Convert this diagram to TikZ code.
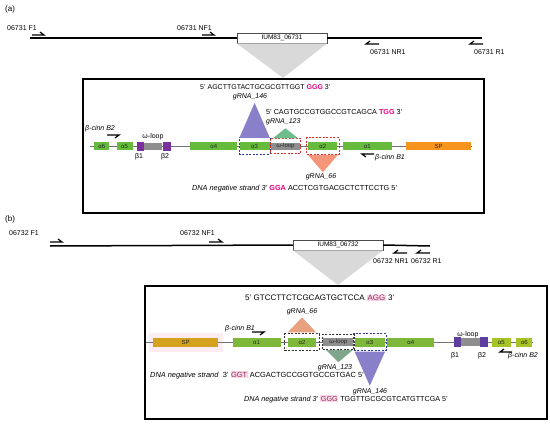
\documentclass[tikz,border=0pt]{standalone}
\usepackage{fontspec}
\setmainfont{Liberation Sans}
\usepackage{xcolor}
\usetikzlibrary{positioning,fit}

\definecolor{cHelixA}{HTML}{66BB3C}
\definecolor{cHelixB}{HTML}{7DB83A}
\definecolor{cHelixB2}{HTML}{A6C426}
\definecolor{cStrandA}{HTML}{7B2F9E}
\definecolor{cStrandB}{HTML}{5B3E9E}
\definecolor{cLoop}{HTML}{8E8E8E}
\definecolor{cSpA}{HTML}{F7941E}
\definecolor{cSpB}{HTML}{D4A21C}
\definecolor{cTri146}{HTML}{8880C8}
\definecolor{cTri123A}{HTML}{6DBE8C}
\definecolor{cTri123B}{HTML}{7FA68A}
\definecolor{cTri66A}{HTML}{F5957A}
\definecolor{cTri66B}{HTML}{E9A27F}
\definecolor{cZoom}{HTML}{D9D9D9}
\definecolor{cPamA}{HTML}{E6007E}
\definecolor{cPamB}{HTML}{8E2F66}
\definecolor{cPamBbg}{HTML}{FAD6E5}
\definecolor{cDashBlue}{HTML}{2E3A9E}
\definecolor{cDashRed}{HTML}{E0302E}

\newcommand{\pamA}[1]{\textcolor{cPamA}{\bfseries #1}}
\newcommand{\pamB}[1]{{\setlength{\fboxsep}{0.6pt}\colorbox{cPamBbg}{\textcolor{cPamB}{#1}}}}

\begin{document}
\begin{tikzpicture}[x=1pt, y=-1pt, node distance=5pt, font=\fontsize{7}{8}\selectfont]
        % stijlen
        \tikzstyle{mainline} = [line width=1.5pt]
        \tikzstyle{primer} = [line width=1.2pt]
        \tikzstyle{iumbox} = [rectangle, draw=black!70, fill=white, line width=0.5pt, minimum width=90pt, minimum height=10pt, inner sep=0pt, font=\fontsize{6.5}{7}\selectfont]
        \tikzstyle{zoomtri} = [fill=cZoom]
        \tikzstyle{panelbox} = [rectangle, draw=black, line width=1.6pt, inner sep=0pt]
        \tikzstyle{gene} = [rectangle, inner sep=0pt, minimum height=8pt, text=black!85, font=\fontsize{6}{6}\selectfont]
        \tikzstyle{helixA} = [gene, fill=cHelixA]
        \tikzstyle{strandA} = [gene, fill=cStrandA, minimum height=9pt]
        \tikzstyle{loopA} = [gene, fill=cLoop, minimum height=7pt]
        \tikzstyle{spboxA} = [gene, fill=cSpA]
        \tikzstyle{helixB} = [gene, fill=cHelixB, minimum height=9pt]
        \tikzstyle{helixBB} = [gene, fill=cHelixB2, minimum height=9pt]
        \tikzstyle{strandB} = [gene, fill=cStrandB, minimum height=10pt]
        \tikzstyle{loopB} = [gene, fill=cLoop, minimum height=8pt]
        \tikzstyle{spboxB} = [gene, fill=cSpB, minimum height=9pt]
        \tikzstyle{backbone} = [line width=0.7pt, draw=black!55]
        \tikzstyle{lab} = [inner sep=0pt, anchor=west]
        \tikzstyle{clab} = [inner sep=0pt]
        \tikzstyle{dashbox} = [rectangle, dash pattern=on 2pt off 1.5pt, line width=0.8pt, inner xsep=1.5pt, inner ysep=4pt]

        \useasboundingbox (0,0) rectangle (550,426);

        % ---------- (a) ----------
        \node[lab, font=\fontsize{8}{9}\selectfont] (tagA) at (5,9) {(a)};
        \coordinate (lineA-l) at (30,38);
        \coordinate (lineA-r) at (482,38);
        \coordinate (zoomA) at (283,78);
        \node[iumbox] (iumA) at (282,38) {IUM83\_06731};
        \fill[zoomtri] (iumA.south west) -- (iumA.south east) -- (zoomA) -- cycle;
        \draw[mainline] (lineA-l) -- (iumA.west);
        \draw[mainline] (iumA.east) -- (lineA-r);

        % primers
        \node[lab] (f1A) at (7,28) {06731 F1};
        \node[lab] (nf1A) at (177,28) {06731 NF1};
        \node[lab] (nr1A) at (370,52) {06731 NR1};
        \node[lab] (r1A) at (474,52) {06731 R1};
        \draw[primer] (32,35) -- (44,35) -- ++(-4,-3);
        \draw[primer] (202,35) -- (214,35) -- ++(-4,-3);
        \draw[primer] (379,44) -- (366,44) -- ++(4,-3);
        \draw[primer] (483,44) -- (470,44) -- ++(4,-3);

        \node[panelbox, minimum width=401pt, minimum height=134pt, anchor=north west] (panelA) at (82,78) {};

        % genstructuur
        \coordinate (bbA-l) at (90,146);
        \coordinate (bbA-r) at (472,146);
        \draw[backbone] (bbA-l) -- (bbA-r);
        \node[helixA, minimum width=15pt, anchor=west] (a6A) at (94,146) {α6};
        \node[helixA, minimum width=16pt, right=7pt of a6A] (a5A) {α5};
        \node[strandA, minimum width=7pt, right=4pt of a5A] (b1A) {};
        \node[loopA, minimum width=18pt, right=0pt of b1A] (lpA) {};
        \node[strandA, minimum width=8pt, right=0pt of lpA] (b2A) {};
        \node[helixA, minimum width=47pt, right=19pt of b2A] (a4A) {α4};
        \node[helixA, minimum width=30pt, right=2pt of a4A] (a3A) {α3};
        \node[loopA, minimum width=29pt, right=1pt of a3A] (wA) {ω-loop};
        \node[helixA, minimum width=29pt, right=8pt of wA] (a2A) {α2};
        \node[helixA, minimum width=49pt, right=5pt of a2A] (a1A) {α1};
        \node[spboxA, minimum width=65pt, right=14pt of a1A] (spA) {SP};

        \node[dashbox, draw=cDashBlue, fit=(a3A), inner xsep=0.5pt] (box146A) {};
        \node[dashbox, draw=cDashRed, fit=(wA), inner xsep=0.5pt] (box123A) {};
        \node[dashbox, draw=cDashRed, fit=(a2A)] (box66A) {};

        \node[clab] (wlabA) at (153,137) {ω-loop};
        \node[clab] (b1labA) at (139,157) {β1};
        \node[clab] (b2labA) at (165,157) {β2};

        % gRNA's
        \fill[cTri146] ([yshift=4pt]a3A.north west) -- ([yshift=4pt]a3A.north east) -- ([yshift=39pt]a3A.north) -- cycle;
        \fill[cTri123A] ([xshift=2pt,yshift=4pt]wA.north west) -- ([xshift=-2pt,yshift=4pt]wA.north east) -- ([yshift=14pt]wA.north) -- cycle;
        \fill[cTri66A] ([yshift=-5pt]a2A.south west) -- ([yshift=-5pt]a2A.south east) -- ([yshift=-22pt]a2A.south) -- cycle;

        \node[lab] (seq146A) at (200,87) {5' AGCTTGTACTGCGCGTTGGT \pamA{GGG} 3'};
        \node[clab] (g146A) at (250,97) {\textit{gRNA\_146}};
        \node[lab, font=\fontsize{7.2}{8}\selectfont] (seq123A) at (266,112) {5' CAGTGCCGTGGCCGTCAGCA \pamA{TGG} 3'};
        \node[lab] (g123A) at (266,122) {\textit{gRNA\_123}};
        \node[clab] (g66A) at (321,177) {\textit{gRNA\_66}};
        \node[lab, font=\fontsize{7.3}{8}\selectfont] (negA) at (192,189) {\textit{DNA negative strand 3'} \pamA{GGA} ACCTCGTGACGCTCTTCCTG 5'};

        % beta-cinn primers
        \node[lab] (bc2A) at (85,129) {\textit{β-cinn B2}};
        \draw[primer] (107,135) -- (119,135) -- ++(-4,3);
        \node[lab] (bc1A) at (375,158) {\textit{β-cinn B1}};
        \draw[primer] (374,154) -- (362,154) -- ++(4,3);

        % ---------- (b) ----------
        \node[lab, font=\fontsize{8}{9}\selectfont] (tagB) at (5,219) {(b)};
        \coordinate (lineB-l) at (50,246);
        \coordinate (lineB-r) at (430,246);
        \coordinate (zoomB) at (338,285);
        \node[iumbox] (iumB) at (338,245) {IUM83\_06732};
        \fill[zoomtri] (iumB.south west) -- (iumB.south east) -- (zoomB) -- cycle;
        \draw[mainline] (lineB-l) -- (iumB.west);
        \draw[mainline] (iumB.east) -- (lineB-r);

        % primers
        \node[lab] (f1B) at (9,233) {06732 F1};
        \node[lab] (nf1B) at (180,233) {06732 NF1};
        \node[lab] (nr1B) at (373,261) {06732 NR1};
        \node[lab] (r1B) at (411,261) {06732 R1};
        \draw[primer] (50,242) -- (62,242) -- ++(-4,-3);
        \draw[primer] (209,242) -- (222,242) -- ++(-4,-3);
        \draw[primer] (407,253) -- (394,253) -- ++(4,-3);
        \draw[primer] (430,253) -- (417,253) -- ++(4,-3);

        \node[panelbox, minimum width=402pt, minimum height=133pt, anchor=north west] (panelB) at (144,285) {};

        % genstructuur
        \fill[cPamBbg!45] (149,333) rectangle (223,352);
        \coordinate (bbB-l) at (146,342);
        \coordinate (bbB-r) at (533,342);
        \draw[backbone] (bbB-l) -- (bbB-r);
        \node[spboxB, minimum width=65pt, anchor=west] (spB) at (153,342) {SP};
        \node[helixB, minimum width=48pt, right=14pt of spB] (a1B) {α1};
        \node[helixB, minimum width=28pt, right=7pt of a1B] (a2B) {α2};
        \node[loopB, minimum width=30pt, right=7pt of a2B] (wB) {ω-loop};
        \node[helixB, minimum width=30pt, right=1pt of wB] (a3B) {α3};
        \node[helixB, minimum width=47pt, right=2pt of a3B] (a4B) {α4};
        \node[strandB, minimum width=7pt, right=19pt of a4B] (b1B) {};
        \node[loopB, minimum width=19pt, right=0pt of b1B] (lpB) {};
        \node[strandB, minimum width=8pt, right=0pt of lpB] (b2B) {};
        \node[helixBB, minimum width=19pt, right=3pt of b2B] (a5B) {α5};
        \node[helixBB, minimum width=16pt, right=5pt of a5B] (a6B) {α6};

        \node[dashbox, draw=black!80, fit=(a2B), inner xsep=3pt, inner ysep=3.5pt] (box66B) {};
        \node[dashbox, draw=black!80, fit=(wB), inner xsep=0.5pt, inner ysep=3.5pt] (box123B) {};
        \node[dashbox, draw=cDashBlue, fit=(a3B), inner xsep=1pt, inner ysep=3.5pt] (box146B) {};

        \node[clab] (wlabB) at (468,335) {ω-loop};
        \node[clab] (b1labB) at (455,356) {β1};
        \node[clab] (b2labB) at (482,356) {β2};

        % gRNA's
        \fill[cTri66B] ([yshift=5pt]a2B.north west) -- ([yshift=5pt]a2B.north east) -- ([yshift=20pt]a2B.north) -- cycle;
        \fill[cTri123B] ([xshift=3pt,yshift=-4pt]wB.south west) -- ([xshift=-1pt,yshift=-4pt]wB.south east) -- ([yshift=-16pt]wB.south) -- cycle;
        \fill[cTri146] ([yshift=-5pt]a3B.south west) -- ([yshift=-5pt]a3B.south east) -- ([yshift=-39pt]a3B.south) -- cycle;

        \node[lab, font=\fontsize{8}{9}\selectfont] (seq66B) at (245,298) {5' GTCCTTCTCGCAGTGCTCCA \pamB{AGG} 3'};
        \node[clab] (g66B) at (302,312) {\textit{gRNA\_66}};
        \node[clab] (g123B) at (335,368) {\textit{gRNA\_123}};
        \node[lab, font=\fontsize{7.4}{8}\selectfont] (neg123B) at (150,375) {\textit{DNA negative strand}\ \ 3' \pamB{GGT} ACGACTGCCGGTGCCGTGAC 5'};
        \node[clab] (g146B) at (370,392) {\textit{gRNA\_146}};
        \node[lab, font=\fontsize{7.2}{8}\selectfont] (neg146B) at (244,399) {\textit{DNA negative strand 3'} \pamB{GGG} TGGTTGCGCGTCATGTTCGA 5'};

        % beta-cinn primers
        \node[lab] (bc1B) at (225,329) {\textit{β-cinn B1}};
        \draw[primer] (252,332) -- (264,332) -- ++(-4,3);
        \node[lab] (bc2B) at (508,356) {\textit{β-cinn B2}};
        \draw[primer] (512,352) -- (500,352) -- ++(4,-3);

    \end{tikzpicture}
\end{document}
